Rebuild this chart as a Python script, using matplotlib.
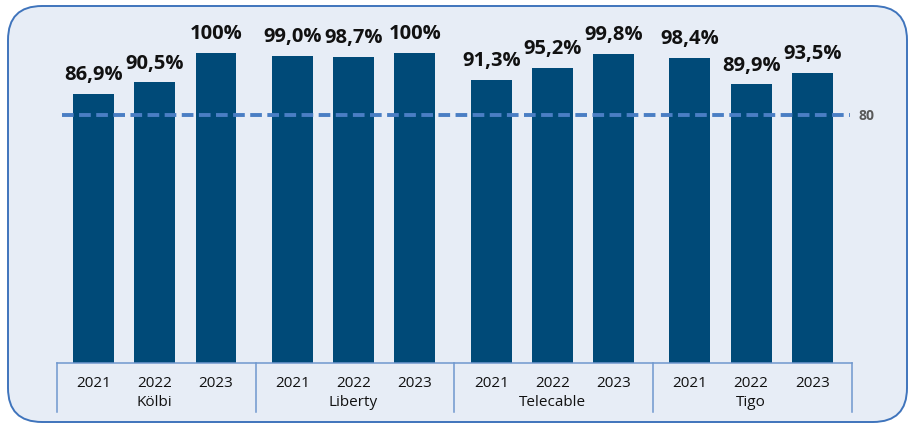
import matplotlib.pyplot as plt
from matplotlib.patches import FancyBboxPatch
from matplotlib.transforms import blended_transform_factory

# data
operators = ['Kölbi', 'Liberty', 'Telecable', 'Tigo']
years = ['2021', '2022', '2023']
values = {
    'Kölbi': [86.9, 90.5, 100.0],
    'Liberty': [99.0, 98.7, 100.0],
    'Telecable': [91.3, 95.2, 99.8],
    'Tigo': [98.4, 89.9, 93.5],
}
target = 80

bar_color = '#004A78'
line_color = '#4A7EC4'
axis_color = '#6F98CE'

fig = plt.figure(figsize=(9.12, 4.27), dpi=100)

# rounded background panel, drawn in pixel units
bg = fig.add_axes([0, 0, 1, 1])
bg.set_xlim(0, 912)
bg.set_ylim(427, 0)
bg.axis('off')
panel = FancyBboxPatch((8, 7), 899, 416, boxstyle='round,pad=0,rounding_size=34',
                       facecolor='#E7EDF6', edgecolor='#3F74BC', linewidth=1.4)
bg.add_patch(panel)

ax = fig.add_axes([57 / 912, 63 / 427, (852 - 57) / 912, (364 - 54) / 427])
ax.set_facecolor('none')

group_w = 3.25
xs, heights, ticklabels = [], [], []
for g, op in enumerate(operators):
    for k, yr in enumerate(years):
        xs.append(g * group_w + 0.6 + k)
        heights.append(values[op][k])
        ticklabels.append(yr)

ax.bar(xs, heights, width=0.67, color=bar_color, zorder=2)

for x, v in zip(xs, heights):
    if v == 100:
        txt = '100%'
    else:
        txt = f'{v:.1f}'.replace('.', ',') + '%'
    ax.annotate(txt, (x, v), xytext=(0, 7), textcoords='offset points',
                ha='center', va='bottom', fontsize=14.5, fontweight='bold',
                family='Open Sans', color='#111111', annotation_clip=False)

xmax = len(operators) * group_w
ax.set_xlim(0, xmax)
ax.set_ylim(0, 100)

# target line
ax.plot([0.08, xmax - 0.03], [target, target], color=line_color, lw=2.8,
        ls=(0, (3.0, 1.4)), zorder=3, clip_on=False)
ax.text(xmax + 0.1, target, str(target), ha='left', va='center', fontsize=10,
        fontweight='bold', color='#595959', family='Open Sans')

# two-level category axis
for s in ax.spines.values():
    s.set_visible(False)
ax.set_yticks([])
ax.set_xticks(xs, ticklabels)
ax.tick_params(axis='x', length=0, pad=9, labelsize=11, labelcolor='#111111')
for lab in ax.get_xticklabels():
    lab.set_family('Open Sans')

tr = blended_transform_factory(ax.transData, ax.transAxes)
ax.plot([0, xmax], [0, 0], color=axis_color, lw=1.1, transform=tr, clip_on=False)
for g in range(len(operators) + 1):
    ax.plot([g * group_w, g * group_w], [0, -0.158], color=axis_color, lw=1.1,
            transform=tr, clip_on=False)
for g, op in enumerate(operators):
    ax.text(g * group_w + group_w / 2 - 0.03, -0.123, op, transform=tr, ha='center',
            va='center', fontsize=11, color='#111111', family='Open Sans')

fig.savefig('out.png', dpi=100)
